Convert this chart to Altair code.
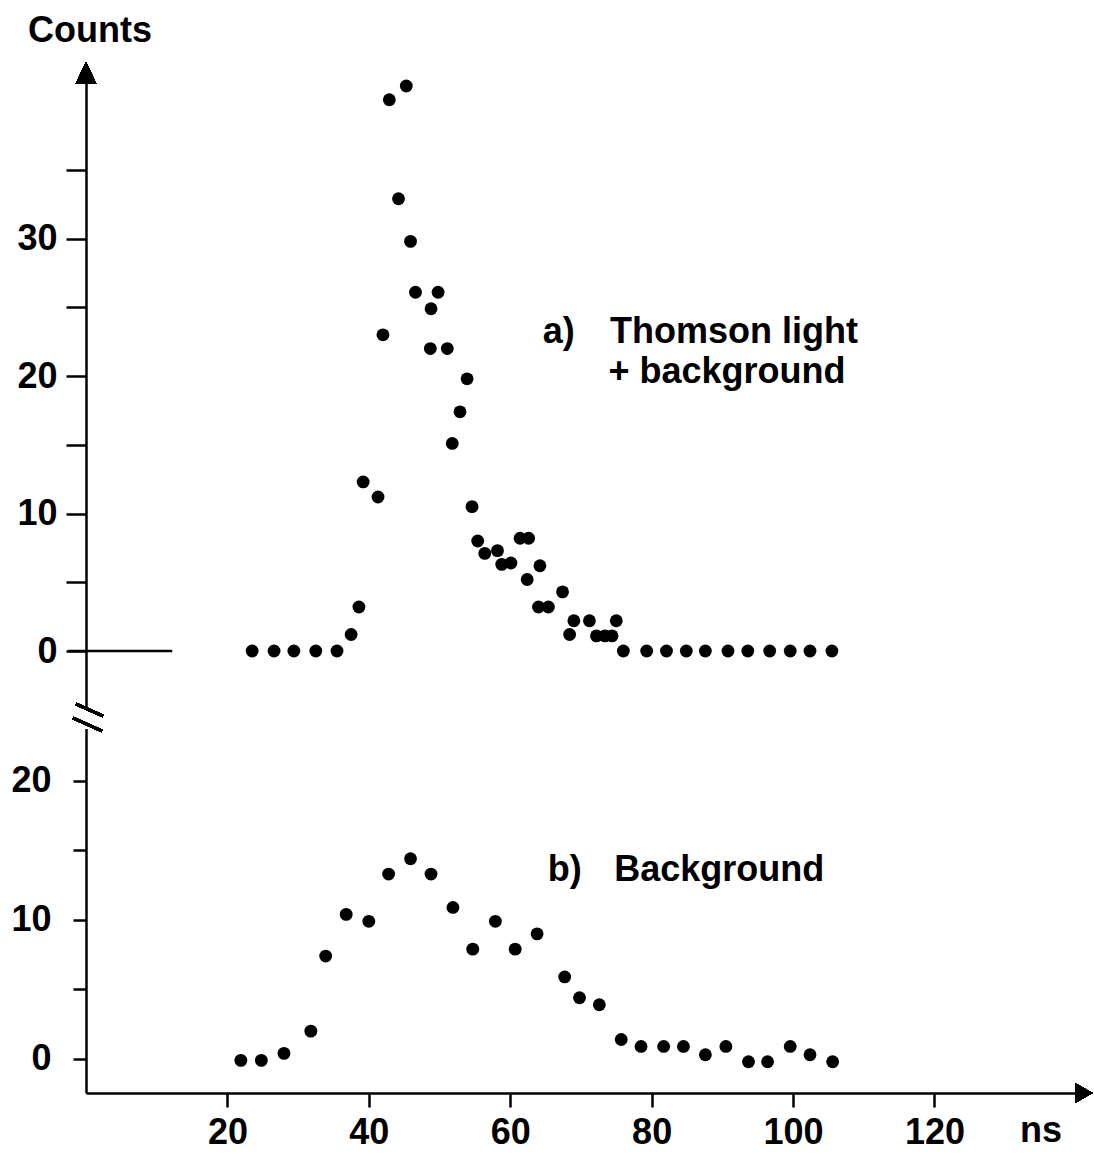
import altair as alt
import pandas as pd

# ---------------- data ----------------
upper_time = [23.5, 26.6, 29.4, 32.5, 35.5, 37.5, 38.6, 39.2, 41.3, 42.0,
              42.9, 45.3, 44.2, 45.9, 46.6, 48.8, 49.8, 48.7, 51.1, 53.9,
              52.9, 51.8, 54.6, 55.4, 56.4, 58.2, 58.8, 60.1, 61.4, 62.6,
              62.4, 64.2, 64.0, 65.4, 67.4, 68.4, 69.0, 71.2, 72.2, 73.4,
              74.4, 75.0, 76.0, 79.3, 82.1, 84.9, 87.6, 90.8, 93.6, 96.7,
              99.6, 102.4, 105.5]
upper_counts = [0, 0, 0, 0, 0, 1.2, 3.2, 12.3, 11.2, 23.0,
                40.1, 41.1, 32.9, 29.8, 26.1, 24.9, 26.1, 22.0, 22.0, 19.8,
                17.4, 15.1, 10.5, 8.0, 7.1, 7.3, 6.3, 6.4, 8.2, 8.2,
                5.2, 6.2, 3.2, 3.2, 4.3, 1.2, 2.2, 2.2, 1.1, 1.1,
                1.1, 2.2, 0, 0, 0, 0, 0, 0, 0, 0,
                0, 0, 0]

lower_time = [21.9, 24.8, 28.0, 31.8, 33.9, 36.8, 40.0, 42.8, 45.9, 48.8,
              51.9, 54.7, 57.9, 60.7, 63.8, 67.7, 69.8, 72.6, 75.7, 78.5,
              81.7, 84.5, 87.6, 90.5, 93.7, 96.4, 99.6, 102.4, 105.6]
lower_counts = [-0.1, -0.1, 0.4, 2.0, 7.4, 10.4, 9.9, 13.3, 14.4, 13.3,
                10.9, 7.9, 9.9, 7.9, 9.0, 5.9, 4.4, 3.9, 1.4, 0.9,
                0.9, 0.9, 0.3, 0.9, -0.2, -0.2, 0.9, 0.3, -0.2]

x_ticks = [20, 40, 60, 80, 100, 120]
upper_y_ticks = [0, 5, 10, 15, 20, 25, 30, 35]
lower_y_ticks = [0, 5, 10, 15, 20]

upper_labels = ["Counts", "a)", "Thomson light", "+ background"]
upper_label_t = [-8.2, 64.6, 74.1, 73.9]
upper_label_c = [44.3, 22.4, 22.4, 19.5]
lower_labels = ["b)", "Background", "ns"]
lower_label_t = [65.3, 74.7, 132.1]
lower_label_c = [12.8, 12.8, -6.0]

# ---------------- layout / style ----------------
FONT = "Liberation Sans"
FS = 36
X_DOMAIN = [0, 142]
W = 1004
UP_H = 653
LO_H = 376
UP_DOMAIN = [-4.8, 42.7]
LO_DOMAIN = [-2.45, 24.6]
LW = 2.5
DOT = 165

up_df = pd.DataFrame({"t": upper_time, "c": upper_counts})
lo_df = pd.DataFrame({"t": lower_time, "c": lower_counts})
up_txt = pd.DataFrame({"t": upper_label_t, "c": upper_label_c, "label": upper_labels})
lo_txt = pd.DataFrame({"t": lower_label_t, "c": lower_label_c, "label": lower_labels})
zero_df = pd.DataFrame({"t": [-2.5], "t2": [12.2], "c": [0]})

xs = alt.Scale(domain=X_DOMAIN, nice=False, zero=False)
ys_up = alt.Scale(domain=UP_DOMAIN, nice=False, zero=False)
ys_lo = alt.Scale(domain=LO_DOMAIN, nice=False, zero=False)

common_axis = dict(title=None, grid=False, domainColor="black", domainWidth=LW,
                   tickColor="black", tickWidth=LW, labelColor="black",
                   labelFont=FONT, labelFontSize=FS, labelFontWeight="bold")

y_axis_up = alt.Axis(values=upper_y_ticks, tickSize=20, labelPadding=9,
                     labelExpr="datum.value % 10 == 0 ? datum.label : ''",
                     **common_axis)
y_axis_lo = alt.Axis(values=lower_y_ticks, tickSize=13, labelPadding=22,
                     labelExpr="datum.value % 10 == 0 ? datum.label : ''",
                     **common_axis)
x_axis_lo = alt.Axis(values=x_ticks, tickSize=14, labelPadding=8, **common_axis)

X_UP = alt.X("t:Q", scale=xs, axis=None)
Y_UP = alt.Y("c:Q", scale=ys_up, axis=y_axis_up)
X_LO = alt.X("t:Q", scale=xs, axis=x_axis_lo)
Y_LO = alt.Y("c:Q", scale=ys_lo, axis=y_axis_lo)

# ---------- upper panel ----------
up_points = alt.Chart(up_df).mark_circle(size=DOT, color="black", opacity=1).encode(x=X_UP, y=Y_UP)
up_zero = alt.Chart(zero_df).mark_rule(color="black", strokeWidth=LW).encode(
    x=X_UP, x2="t2:Q", y=Y_UP)
up_text = alt.Chart(up_txt).mark_text(align="left", baseline="alphabetic", font=FONT,
                                      fontSize=FS, fontWeight="bold", color="black").encode(
    x=X_UP, y=Y_UP, text="label:N")
up_arrow = alt.Chart(up_df).mark_point(shape="M0,-1 L0.95,1 L-0.95,1 Z", filled=True,
                                       color="black", opacity=1, size=484).encode(
    x=alt.value(0), y=alt.value(9))
up_gap = alt.Chart(up_df).mark_rule(color="white", strokeWidth=5).encode(
    x=alt.value(0), y=alt.value(643), y2=alt.value(653))
up_break = alt.Chart(up_df).mark_rule(color="black", strokeWidth=LW).encode(
    x=alt.value(-10), x2=alt.value(17), y=alt.value(640), y2=alt.value(652))

upper = alt.layer(up_gap, up_zero, up_points, up_text, up_arrow, up_break).properties(
    width=W, height=UP_H)

# ---------- lower panel ----------
lo_points = alt.Chart(lo_df).mark_circle(size=DOT, color="black", opacity=1).encode(x=X_LO, y=Y_LO)
lo_text = alt.Chart(lo_txt).mark_text(align="left", baseline="alphabetic", font=FONT,
                                      fontSize=FS, fontWeight="bold", color="black").encode(
    x=X_LO, y=Y_LO, text="label:N")
lo_arrow = alt.Chart(lo_df).mark_point(shape="M-1,-1.15 L1,0 L-1,1.15 Z", filled=True,
                                       color="black", opacity=1, size=289).encode(
    x=alt.value(998), y=alt.value(LO_H))
lo_gap = alt.Chart(lo_df).mark_rule(color="white", strokeWidth=5).encode(
    x=alt.value(0), y=alt.value(0), y2=alt.value(12))
lo_break = alt.Chart(lo_df).mark_rule(color="black", strokeWidth=LW).encode(
    x=alt.value(-13), x2=alt.value(16), y=alt.value(1), y2=alt.value(14))

lower = alt.layer(lo_gap, lo_points, lo_text, lo_arrow, lo_break).properties(
    width=W, height=LO_H)

chart = alt.vconcat(upper, lower, spacing=0, bounds="flush").properties(
    padding={"left": 10, "top": 13, "right": 0, "bottom": 0},
    background="white",
).configure_view(stroke=None)

chart.save("out.html", embed_options={"renderer": "svg", "actions": False})
